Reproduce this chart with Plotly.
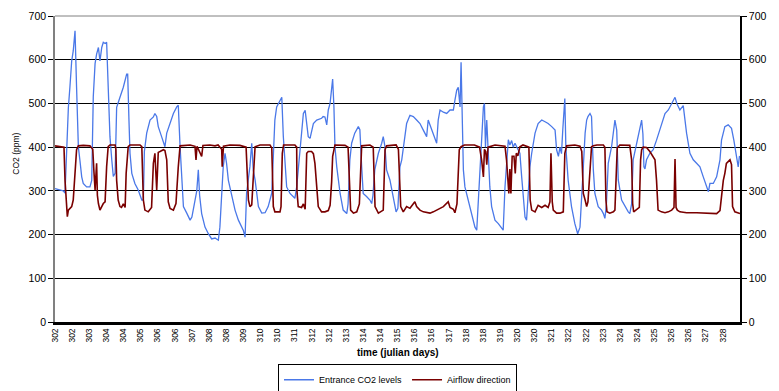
import plotly.graph_objects as go

# ---- data ----
co2_day = [302.00, 302.32, 302.39, 302.46, 302.52, 302.58, 302.65, 302.71, 302.78, 302.84, 302.91, 302.97,
           303.04, 303.10, 303.23, 303.36, 303.43, 303.49, 303.56, 303.62, 303.69, 303.75, 303.82, 303.88,
           303.95, 304.01, 304.07, 304.14, 304.21, 304.27, 304.34, 304.37, 304.40, 304.53, 304.66, 304.79,
           304.83, 304.88, 304.92, 304.99, 305.11, 305.24, 305.38, 305.44, 305.48, 305.57, 305.70, 305.83,
           305.89, 305.96, 306.02, 306.15, 306.22, 306.28, 306.35, 306.48, 306.61, 306.74, 306.80, 306.87,
           306.94, 307.00, 307.13, 307.26, 307.33, 307.45, 307.52, 307.58, 307.63, 307.71, 307.84, 307.97,
           308.10, 308.23, 308.36, 308.42, 308.49, 308.55, 308.62, 308.68, 308.75, 308.88, 309.01, 309.14,
           309.27, 309.33, 309.40, 309.46, 309.59, 309.66, 309.72, 309.79, 309.92, 310.05, 310.18, 310.30,
           310.44, 310.50, 310.56, 310.63, 310.76, 310.83, 310.89, 310.96, 311.02, 311.15, 311.28, 311.34,
           311.41, 311.54, 311.67, 311.74, 311.86, 311.93, 312.06, 312.19, 312.38, 312.44, 312.51, 312.58,
           312.64, 312.71, 312.77, 312.81, 312.86, 312.90, 312.97, 313.10, 313.22, 313.36, 313.41, 313.48,
           313.55, 313.67, 313.81, 313.87, 313.94, 314.00, 314.13, 314.26, 314.33, 314.38, 314.45, 314.59,
           314.72, 314.78, 314.85, 314.91, 315.04, 315.17, 315.28, 315.35, 315.43, 315.50, 315.56, 315.69,
           315.82, 315.95, 316.08, 316.21, 316.34, 316.47, 316.53, 316.67, 316.79, 316.86, 316.92, 316.99,
           317.12, 317.25, 317.38, 317.51, 317.57, 317.64, 317.70, 317.77, 317.81, 317.84, 317.90, 317.96,
           318.09, 318.22, 318.35, 318.42, 318.48, 318.55, 318.61, 318.68, 318.72, 318.76, 318.81, 318.87,
           318.93, 319.00, 319.13, 319.26, 319.39, 319.45, 319.52, 319.58, 319.65, 319.71, 319.78, 319.84,
           319.91, 320.02, 320.10, 320.17, 320.23, 320.30, 320.36, 320.43, 320.49, 320.56, 320.69, 320.81,
           320.95, 321.08, 321.20, 321.34, 321.47, 321.53, 321.60, 321.66, 321.72, 321.77, 321.85, 321.89,
           321.98, 322.11, 322.24, 322.35, 322.44, 322.57, 322.64, 322.70, 322.75, 322.83, 322.89, 322.96,
           323.02, 323.15, 323.28, 323.35, 323.41, 323.47, 323.54, 323.67, 323.74, 323.80, 323.87, 323.93,
           324.06, 324.19, 324.32, 324.38, 324.45, 324.51, 324.65, 324.71, 324.78, 324.84, 324.89, 324.93,
           324.97, 325.03, 325.16, 325.29, 325.42, 325.55, 325.68, 325.75, 325.88, 326.01, 326.14, 326.21,
           326.33, 326.46, 326.53, 326.59, 326.72, 326.85, 326.98, 327.11, 327.24, 327.37, 327.44, 327.50,
           327.63, 327.76, 327.89, 327.95, 328.08, 328.21, 328.34, 328.43, 328.54, 328.60, 328.65]
co2_ppm = [305, 300, 295, 400, 490, 537, 597, 620, 666, 537, 400, 370,
           332, 317, 309, 309, 324, 515, 591, 613, 628, 597, 628, 640,
           637, 640, 537, 424, 371, 333, 340, 401, 491, 514, 537, 567,
           567, 461, 386, 340, 317, 302, 279, 279, 390, 432, 462, 469,
           477, 470, 447, 424, 409, 401, 432, 454, 477, 492, 496, 401,
           325, 264, 249, 233, 240, 280, 300, 348, 290, 248, 217, 202,
           190, 192, 187, 217, 295, 355, 386, 363, 324, 287, 256, 233,
           217, 210, 194, 295, 356, 409, 347, 325, 264, 249, 250, 264,
           295, 401, 462, 492, 506, 514, 424, 355, 309, 294, 287, 283,
           309, 386, 477, 484, 424, 420, 454, 462, 466, 470, 469, 451,
           485, 500, 537, 556, 492, 401, 355, 294, 256, 248, 270, 371,
           409, 432, 447, 440, 355, 294, 287, 279, 271, 290, 348, 386,
           409, 424, 400, 348, 325, 287, 252, 260, 355, 371, 401, 454,
           473, 470, 462, 454, 439, 424, 462, 440, 424, 409, 462, 485,
           480, 477, 485, 485, 507, 530, 537, 492, 594, 500, 348, 309,
           279, 248, 217, 210, 270, 355, 424, 492, 500, 400, 462, 363,
           309, 264, 233, 225, 213, 210, 309, 371, 417, 405, 415, 400,
           409, 395, 386, 332, 294, 240, 233, 309, 355, 386, 432, 454,
           462, 458, 454, 447, 439, 394, 379, 400, 385, 440, 511, 400,
           324, 264, 225, 202, 217, 355, 432, 462, 470, 477, 470, 348,
           294, 264, 256, 248, 237, 270, 363, 401, 432, 462, 439, 325,
           279, 264, 252, 248, 270, 371, 409, 432, 447, 462, 430, 355,
           350, 371, 386, 394, 416, 439, 462, 477, 485, 500, 514, 500,
           485, 495, 460, 432, 386, 371, 363, 355, 332, 309, 298, 317,
           317, 332, 371, 416, 447, 451, 443, 416, 379, 355, 380]

air_day = [302.00, 302.32, 302.35, 302.39, 302.46, 302.48, 302.52, 302.58, 302.65, 302.71, 302.78, 302.84,
           302.91, 303.10, 303.36, 303.47, 303.52, 303.56, 303.62, 303.65, 303.69, 303.75, 303.88, 303.95,
           304.01, 304.07, 304.14, 304.34, 304.37, 304.40, 304.46, 304.53, 304.59, 304.66, 304.73, 304.77,
           304.85, 304.92, 305.31, 305.38, 305.44, 305.50, 305.63, 305.76, 305.83, 305.89, 305.96, 306.02,
           306.09, 306.22, 306.28, 306.35, 306.41, 306.48, 306.61, 306.71, 306.80, 306.87, 307.26, 307.45,
           307.49, 307.53, 307.71, 307.76, 308.03, 308.23, 308.35, 308.49, 308.51, 308.56, 308.81, 309.20,
           309.44, 309.49, 309.53, 309.59, 309.66, 309.72, 309.79, 309.98, 310.37, 310.44, 310.50, 310.56,
           310.76, 310.80, 310.85, 310.90, 311.34, 311.41, 311.42, 311.47, 311.60, 311.67, 311.74, 311.80,
           311.86, 311.99, 312.06, 312.12, 312.19, 312.25, 312.38, 312.51, 312.64, 312.71, 312.77, 312.81,
           312.90, 313.29, 313.41, 313.46, 313.51, 313.62, 313.75, 313.85, 313.91, 313.94, 314.26, 314.39,
           314.46, 314.59, 314.78, 314.85, 314.91, 315.28, 315.37, 315.46, 315.56, 315.69, 315.82, 316.01,
           316.08, 316.21, 316.34, 316.60, 316.73, 316.86, 316.99, 317.12, 317.31, 317.38, 317.51, 317.57,
           317.65, 317.70, 317.74, 317.81, 317.94, 318.33, 318.53, 318.61, 318.68, 318.72, 318.77, 318.81,
           318.86, 319.13, 319.52, 319.58, 319.62, 319.67, 319.71, 319.75, 319.80, 319.87, 319.92, 319.96,
           320.02, 320.10, 320.22, 320.45, 320.50, 320.56, 320.69, 320.81, 320.95, 321.08, 321.20, 321.27,
           321.31, 321.36, 321.40, 321.53, 321.66, 321.79, 321.85, 321.92, 322.24, 322.44, 322.51, 322.57,
           322.64, 322.70, 322.75, 322.83, 322.89, 322.96, 323.10, 323.35, 323.41, 323.45, 323.49, 323.60,
           323.74, 323.80, 323.84, 323.89, 323.99, 324.38, 324.45, 324.49, 324.53, 324.64, 324.75, 324.80,
           324.84, 324.90, 325.03, 325.16, 325.29, 325.36, 325.42, 325.48, 325.61, 325.75, 325.88, 326.01,
           326.10, 326.14, 326.18, 326.23, 326.33, 326.59, 326.98, 327.37, 327.76, 327.89, 327.95, 328.02,
           328.08, 328.14, 328.21, 328.28, 328.34, 328.38, 328.47, 328.67]
air_val = [403, 401, 400, 324, 264, 241, 256, 260, 264, 279, 355, 394,
           403, 404, 403, 395, 340, 302, 363, 290, 271, 256, 271, 275,
           355, 401, 405, 405, 395, 324, 279, 264, 262, 270, 262, 340,
           401, 405, 405, 401, 279, 256, 252, 262, 363, 386, 302, 388,
           390, 394, 392, 371, 275, 260, 256, 271, 355, 403, 405, 402,
           371, 402, 379, 404, 405, 403, 405, 395, 355, 402, 405, 404,
           400, 330, 279, 264, 268, 330, 401, 405, 405, 398, 264, 252,
           252, 264, 386, 405, 405, 400, 300, 264, 262, 270, 258, 386,
           390, 390, 385, 363, 295, 264, 252, 252, 255, 267, 320, 379,
           405, 404, 400, 300, 256, 249, 252, 270, 394, 403, 405, 400,
           264, 249, 256, 394, 403, 405, 395, 264, 252, 264, 260, 275,
           264, 256, 252, 249, 252, 256, 260, 264, 275, 262, 258, 250,
           270, 355, 394, 401, 405, 405, 400, 371, 332, 395, 390, 360,
           400, 405, 402, 371, 324, 294, 350, 294, 379, 379, 340, 386,
           380, 401, 405, 400, 279, 256, 252, 267, 262, 267, 262, 275,
           386, 275, 256, 249, 249, 252, 386, 403, 405, 402, 390, 294,
           279, 264, 275, 340, 401, 403, 405, 405, 400, 279, 252, 249,
           252, 256, 332, 398, 405, 404, 371, 271, 252, 256, 262, 371,
           394, 400, 399, 390, 379, 371, 324, 256, 252, 250, 252, 256,
           262, 373, 262, 256, 252, 250, 250, 249, 248, 255, 294, 324,
           340, 363, 367, 371, 360, 264, 252, 248]

x_labels = ["302", "302", "303", "304", "304", "305", "306", "306", "307", "308",
            "308", "309", "310", "310", "311", "312", "312", "313", "314", "314",
            "315", "316", "316", "317", "318", "318", "319", "320", "320", "321",
            "322", "322", "323", "324", "324", "325", "326", "326", "327", "328"]
y_ticks = [0, 100, 200, 300, 400, 500, 600, 700]

x_start = 302.0
x_end = 328.67
tick_step = 2.0 / 3.0
tick_vals = [x_start + i * tick_step for i in range(len(x_labels))]

FONT = "Liberation Sans, Arial, sans-serif"

fig = go.Figure()
fig.add_trace(go.Scatter(x=co2_day, y=co2_ppm, mode="lines", name="Entrance CO2 levels",
                         line=dict(color="#4a78e8", width=1.3), yaxis="y"))
fig.add_trace(go.Scatter(x=air_day, y=air_val, mode="lines", name="Airflow direction",
                         line=dict(color="#7a0000", width=1.6), yaxis="y2"))

fig.update_layout(
    template="none",
    width=771, height=383,
    margin=dict(l=47, r=39, t=8, b=69, autoexpand=False),
    paper_bgcolor="white", plot_bgcolor="white",
    font=dict(family=FONT, color="black", size=10),
    showlegend=True,
    legend=dict(orientation="h", x=0.5, xanchor="center", y=-0.138, yanchor="top",
                bordercolor="black", borderwidth=1, font=dict(size=9, family=FONT),
                itemwidth=30, tracegroupgap=0, bgcolor="white"),
    xaxis=dict(range=[x_start, x_end], tickmode="array", tickvals=tick_vals, ticktext=x_labels,
               tickangle=-90, tickfont=dict(size=8.5), showgrid=False, zeroline=False, automargin=False,
               showline=True, linecolor="black", linewidth=3, ticks="", ticklen=0),
    yaxis=dict(range=[0, 700], tickmode="array", tickvals=y_ticks, showgrid=True, gridcolor="black",
               gridwidth=1, zeroline=False, showline=True, linecolor="#808080", linewidth=1.5,
               automargin=False, ticks="outside", ticklen=5, tickcolor="black",
               tickfont=dict(size=10.5), mirror=False),
    yaxis2=dict(range=[0, 700], tickmode="array", tickvals=y_ticks, overlaying="y", side="right",
                showgrid=False, zeroline=False, showline=True, linecolor="black", linewidth=1.5,
                automargin=False, ticks="outside", ticklen=5, tickcolor="black",
                tickfont=dict(size=10.5)),
    shapes=[dict(type="line", xref="paper", yref="paper", x0=0, x1=1, y0=1, y1=1,
                 line=dict(color="#808080", width=1))],
    annotations=[
        dict(text="<b>time (julian days)</b>", xref="paper", yref="paper", x=0.5, y=-0.099,
             xanchor="center", yanchor="middle", showarrow=False, font=dict(size=10, family=FONT)),
        dict(text="CO2 (ppm)", xref="paper", yref="paper", x=-0.057, y=0.55, textangle=-90,
             xanchor="center", yanchor="middle", showarrow=False, font=dict(size=8.5, family=FONT)),
    ],
)

fig.write_html("out.html")
